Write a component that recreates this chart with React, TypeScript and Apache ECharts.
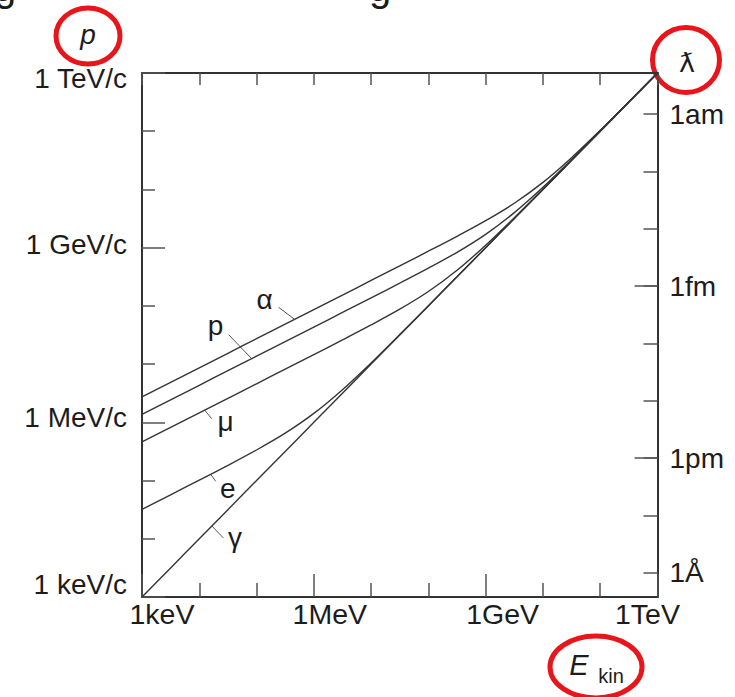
import React, { useEffect, useRef } from "react";
import * as echarts from "echarts";

// Kinetic energy samples (keV) and momenta (keV/c)
const energyKeV = [1, 3.162, 10, 31.62, 100, 316.2, 1e3, 3162, 1e4, 3.162e4, 1e5, 3.162e5, 1e6, 3.162e6, 1e7, 3.162e7, 1e8, 3.162e8, 1e9];
const pAlpha = [2730, 4855, 8634, 15354, 27304, 48554, 86347, 153570, 273217, 486557, 869181, 1567603, 2907707, 5794290, 13211646, 35153000, 103660000, 319933000, 1003720000];
const pProton = [1370, 2436, 4332, 7703, 13699, 24362, 43331, 77098, 137352, 245644, 444583, 832712, 1696037, 3991754, 10897956, 32547500, 100934900, 317166000, 1000938000];
const pMuon = [459.7, 817.4, 1453.7, 2585.1, 4598, 8181, 14571, 26043, 47044, 87649, 176442, 408441, 1100598, 3266228, 10105106, 31728424, 100105600, 316333000, 1000105600];
const pElectron = [31.98, 56.94, 101.6, 182.5, 335.0, 650.5, 1422, 3638, 10499, 32130, 100510, 316739, 1000511, 3162511, 10000511, 31620511, 100000511, 316200511, 1000000511];
const pPhoton = [1, 3.162, 10, 31.62, 100, 316.2, 1e3, 3162, 1e4, 3.162e4, 1e5, 3.162e5, 1e6, 3.162e6, 1e7, 3.162e7, 1e8, 3.162e8, 1e9];

const curveNames = ["α", "p", "μ", "e", "γ"];
const curveValues = [pAlpha, pProton, pMuon, pElectron, pPhoton];

// Axis tick labels (decade exponents of keV)
const xTickValues = [0, 3, 6, 9];
const xTickLabels = ["1keV", "1MeV", "1GeV", "1TeV"];
const yTickValues = [0, 3, 6, 9];
const yTickLabels = ["1 keV/c", "1 MeV/c", "1 GeV/c", "1 TeV/c"];
// reduced wavelength axis: log10 of metres
const lambdaTicks = [-18, -17, -16, -15, -14, -13, -12, -11, -10];
const lambdaLabelValues = [-18, -15, -12, -10];
const lambdaLabels = ["1am", "1fm", "1pm", "1Å"];

const FONT = "'Liberation Sans', Arial, Helvetica, sans-serif";
const TEXT = "#1c1c1c";
const AXIS = "#333333";
const TICK = "#555555";
const CURVE = "#353535";
const RED = "#e8161b";

export default function App() {
  const ref = useRef<HTMLDivElement>(null);

  useEffect(() => {
    document.body.style.margin = "0";
    const chart = echarts.init(ref.current as HTMLDivElement, null, { renderer: "svg" });
    const lg = Math.log10;

    const series = curveNames.map((name, k) => ({
      type: "line",
      name,
      xAxisIndex: 0,
      yAxisIndex: 0,
      data: energyKeV.map((e, i) => [lg(e), lg(curveValues[k][i])]),
      showSymbol: false,
      symbol: "none",
      smooth: 0.3,
      silent: true,
      lineStyle: { color: CURVE, width: 1.4 },
    }));

    const xShift = [[0, 0, 0, 40], [0, 0, 0, 32], [0, 0, 0, 34], [0, 20, 0, 0]];
    const xRich: any = {};
    xShift.forEach((pad, i) => {
      xRich["x" + i] = { fontSize: 28.5, fontFamily: FONT, color: TEXT, padding: pad };
    });
    const yShift = [[0, 0, 26, 0], [0, 0, 10, 0], [0, 0, 6, 0], [10, 0, 0, 0]];
    const yRich: any = {};
    yShift.forEach((pad, i) => {
      yRich["y" + i] = { fontSize: 28, fontFamily: FONT, color: TEXT, padding: pad };
    });

    const axisLine = { show: true, onZero: false, lineStyle: { color: AXIS, width: 2 } };
    const tickStyle = { color: TICK, width: 1.5 };

    const option: any = {
      animation: false,
      grid: { left: 142, top: 73, right: 77.5, bottom: 100, containLabel: false },
      xAxis: [
        {
          type: "value", position: "bottom", min: 0, max: 9, interval: 3,
          axisLine,
          axisTick: { show: true, inside: true, length: 23, lineStyle: tickStyle },
          minorTick: { show: true, splitNumber: 3, length: 14, lineStyle: tickStyle },
          splitLine: { show: false }, minorSplitLine: { show: false },
          axisLabel: {
            show: true, margin: 2, showMinLabel: true, showMaxLabel: true,
            formatter: (v: number) => {
              const i = xTickValues.indexOf(Math.round(v));
              return i < 0 ? "" : `{x${i}|${xTickLabels[i]}}`;
            },
            rich: xRich,
          },
        },
        {
          type: "value", position: "top", min: 0, max: 9, interval: 1,
          axisLine,
          axisTick: { show: true, inside: true, length: 12, lineStyle: tickStyle },
          axisLabel: { show: false }, splitLine: { show: false },
        },
      ],
      yAxis: [
        {
          type: "value", position: "left", min: 0, max: 9, interval: 3,
          axisLine,
          axisTick: { show: true, inside: true, length: 23, lineStyle: tickStyle },
          minorTick: { show: true, splitNumber: 3, length: 13, lineStyle: tickStyle },
          splitLine: { show: false }, minorSplitLine: { show: false },
          axisLabel: {
            show: true, margin: 15, showMinLabel: true, showMaxLabel: true,
            formatter: (v: number) => {
              const i = yTickValues.indexOf(Math.round(v));
              return i < 0 ? "" : `{y${i}|${yTickLabels[i]}}`;
            },
            rich: yRich,
          },
        },
        {
          type: "value", position: "right", min: -18.716, max: -9.576, inverse: true,
          axisLine,
          axisTick: { show: true, inside: true, length: 14, customValues: lambdaTicks, lineStyle: tickStyle },
          axisLabel: { show: false }, splitLine: { show: false },
        },
        {
          type: "value", position: "right", min: -18.716, max: -9.576, inverse: true,
          axisLine: { show: false, onZero: false },
          axisTick: { show: true, inside: true, length: 23, customValues: [-15, -12], lineStyle: tickStyle },
          axisLabel: {
            show: true, margin: 12, customValues: lambdaLabelValues,
            fontSize: 28, fontFamily: FONT, color: TEXT,
            formatter: (v: number) => {
              const i = lambdaLabelValues.indexOf(Math.round(v));
              return i < 0 ? "" : lambdaLabels[i];
            },
          },
          splitLine: { show: false },
        },
      ],
      series,
    };
    chart.setOption(option);

    // curve labels with short leader lines; anchors are points on the curves (log10 keV, log10 keV/c)
    const curveLabels = [
      { text: "α", anchor: [2.665, 4.769], lead: [-16, -12], pos: [-30, -20] },
      { text: "p", anchor: [1.914, 4.094], lead: [-23, -24], pos: [-36, -33] },
      { text: "μ", anchor: [1.094, 3.209], lead: [7, 8.5], pos: [21, 11] },
      { text: "e", anchor: [1.199, 2.1075], lead: [5, 7], pos: [17, 14] },
      { text: "γ", anchor: [1.22, 1.22], lead: [11.5, 12], pos: [23, 12] },
    ];
    const graphics: any[] = [];
    curveLabels.forEach((c) => {
      const p = chart.convertToPixel({ gridIndex: 0 } as any, c.anchor) as number[];
      graphics.push({
        type: "line", silent: true,
        shape: { x1: p[0], y1: p[1], x2: p[0] + c.lead[0], y2: p[1] + c.lead[1] },
        style: { stroke: "#555", lineWidth: 1 },
      });
      graphics.push({
        type: "text", silent: true, x: p[0] + c.pos[0], y: p[1] + c.pos[1],
        style: { text: c.text, font: `28px ${FONT}`, fill: TEXT, align: "center", verticalAlign: "middle" },
      });
    });

    // cut-off caption descenders at the very top
    graphics.push({ type: "text", silent: true, x: -6, y: -13.5, style: { text: "g", font: `40px ${FONT}`, fill: TEXT, align: "left", verticalAlign: "middle" } });
    graphics.push({ type: "text", silent: true, x: 369, y: -13.5, style: { text: "g", font: `40px ${FONT}`, fill: TEXT, align: "left", verticalAlign: "middle" } });

    // axis titles with red circles
    graphics.push({ type: "text", silent: true, x: 88, y: 34, style: { text: "p", font: `italic 28px ${FONT}`, fill: TEXT, align: "center", verticalAlign: "middle" } });
    graphics.push({ type: "ellipse", silent: true, shape: { cx: 88, cy: 36, rx: 32, ry: 28 }, style: { fill: "none", stroke: RED, lineWidth: 5 } });

    graphics.push({ type: "text", silent: true, x: 687, y: 62, style: { text: "ƛ", font: `27px 'DejaVu Sans', ${FONT}`, fill: TEXT, align: "center", verticalAlign: "middle" } });
    graphics.push({ type: "ellipse", silent: true, shape: { cx: 686, cy: 60, rx: 33.5, ry: 32.5 }, style: { fill: "none", stroke: RED, lineWidth: 5 } });

    graphics.push({ type: "text", silent: true, x: 579, y: 665, style: { text: "E", font: `italic 29px ${FONT}`, fill: TEXT, align: "center", verticalAlign: "middle" } });
    graphics.push({ type: "text", silent: true, x: 611, y: 676, style: { text: "kin", font: `20px ${FONT}`, fill: TEXT, align: "center", verticalAlign: "middle" } });
    graphics.push({ type: "ellipse", silent: true, shape: { cx: 596, cy: 667, rx: 46, ry: 31 }, style: { fill: "none", stroke: RED, lineWidth: 5 } });

    chart.setOption({ graphic: graphics });

    return () => chart.dispose();
  }, []);

  return <div ref={ref} style={{ width: 735, height: 697 }} />;
}
